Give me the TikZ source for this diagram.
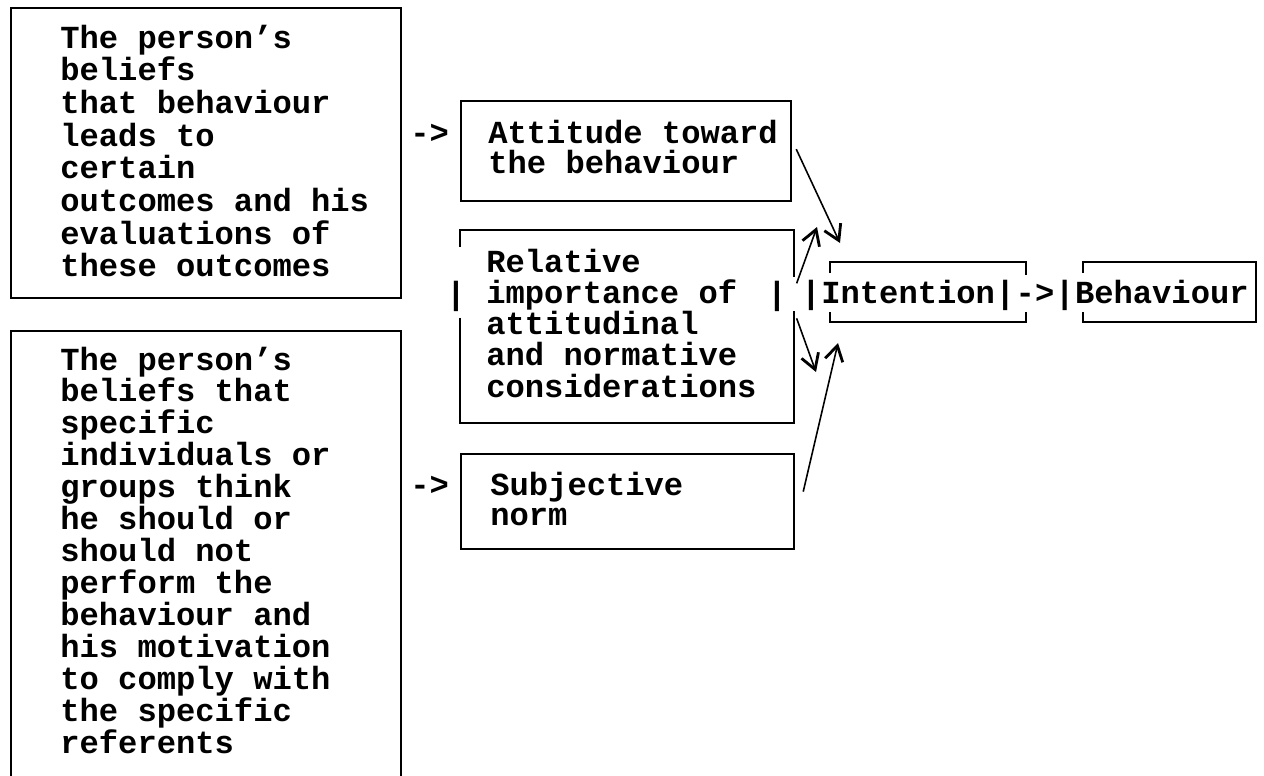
\documentclass[tikz,border=0pt]{standalone}
\usepackage{fontspec}
\newfontfamily\typefont{Liberation Mono}
\newcommand{\diagfont}[1][18.2]{\typefont\bfseries\fontsize{18.3}{#1}\selectfont}
% one typewriter cell of blank
\newcommand{\wsp}{\hspace*{10.98pt}}
\usetikzlibrary{arrows.meta,positioning,calc}

\begin{document}
\begin{tikzpicture}[x=0.02cm, y=-0.02cm,
box/.style={rectangle, draw, line width=1.3pt, inner sep=0pt, anchor=north west},
txt/.style={font=\diagfont, inner sep=0pt, anchor=base west, text width=9cm},
glyph/.style={font=\diagfont, inner sep=0pt, anchor=base west},
side/.style={line width=1.3pt},
arrow/.style={-{Straight Barb[length=3mm, width=3.6mm, line width=1.6pt]}, line width=0.9pt}
]
\useasboundingbox (0,0) rectangle (1264,775);

% Left column
\node[box, minimum width=7.8cm, minimum height=5.8cm] (belatt) at (10,7) {};
\node[txt, font={\diagfont[18.6]}] (belatttxt) at (60,48) {The\wsp person’s\\ beliefs\\ that\wsp behaviour\\ leads\wsp to\\ certain\\ outcomes\wsp and\wsp his\\ evaluations\wsp of\\ these\wsp outcomes};
\node[box, minimum width=7.8cm, minimum height=9.4cm] (belnorm) at (10,330) {};
\node[txt] (belnormtxt) at (60,370) {The\wsp person’s\\ beliefs\wsp that\\ specific\\ individuals\wsp or\\ groups\wsp think\\ he\wsp should\wsp or\\ should\wsp not\\ perform\wsp the\\ behaviour\wsp and\\ his\wsp motivation\\ to\wsp comply\wsp with\\ the\wsp specific\\ referents};

% Middle column
\node[glyph] (toatt) at (410,143) {->};
\node[box, minimum width=6.6cm, minimum height=2cm] (att) at (460,100) {};
\node[txt, font={\diagfont[17.4]}] (atttxt) at (488,143) {Attitude\wsp toward\\ the\wsp behaviour};

\node[inner sep=0pt, anchor=north west, minimum width=6.66cm, minimum height=3.84cm] (rel) at (460,230) {};
\node[txt, font={\diagfont[17.8]}] (reltxt) at (486,272) {Relative\\ importance\wsp of\\ attitudinal\\ and\wsp normative\\ considerations};
\node[glyph] (relbarl) at (446,304) {|};
\node[glyph] (relbarr) at (767,304) {|};
\draw[side] ($(rel.north west)+(0,17)$) -- (rel.north west) -- (rel.north east) -- ($(rel.north east)+(0,47)$);
\draw[side] ($(rel.south west)+(0,-105)$) -- (rel.south west) -- (rel.south east) -- ($(rel.south east)+(0,-112)$);

\node[glyph] (tosubj) at (410,495) {->};
\node[box, minimum width=6.66cm, minimum height=1.9cm] (subj) at (460,453) {};
\node[txt, font={\diagfont[17.4]}] (subjtxt) at (490,495) {Subjective\\ norm};

% Right row
\node[glyph] (intent) at (821,303) {Intention};
\node[glyph, anchor=base east] (intbarl) at (intent.base west) {|};
\node[glyph] (intbarr) at (intent.base east) {|};
\node[glyph] (tobeh) at (intbarr.base east) {->};
\node[glyph] (behbarl) at (tobeh.base east) {|};
\node[glyph] (behav) at (behbarl.base east) {Behaviour};
\draw[side] (830,273) -- (830,262) -- (1026,262) -- (1026,275);
\draw[side] (830,312) -- (830,322) -- (1026,322) -- (1026,312);
\draw[side] (1083,273) -- (1083,262) -- (1256,262) -- (1256,322) -- (1083,322) -- (1083,312);

% Arrows
\coordinate (intA) at (840,243);
\coordinate (intB) at (817,227);
\coordinate (intC) at (816,372);
\coordinate (intD) at (838,343);
\draw[arrow] ($(att.east)+(4,-2)$) -- (intA);
\draw[arrow] ($(rel.east)+(3,-43)$) -- (intB);
\draw[arrow] ($(rel.east)+(3,-8)$) -- (intC);
\draw[arrow] ($(subj.east)+(8,-10)$) -- (intD);

\end{tikzpicture}
\end{document}
